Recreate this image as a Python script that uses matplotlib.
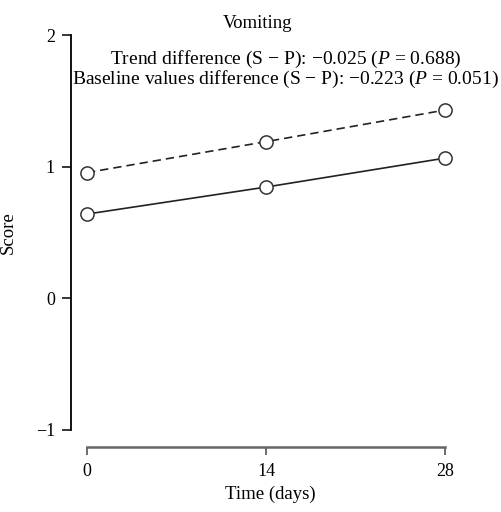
import matplotlib
matplotlib.use("Agg")
import matplotlib.pyplot as plt

days = [0, 14, 28]
score_solid = [0.64, 0.845, 1.065]
score_dashed = [0.955, 1.19, 1.43]
y_ticks = [-1, 0, 1, 2]

title = "Vomiting"
trend_text = r"Trend difference (S $-$ P): $-$0.025 ($\mathit{P}$ = 0.688)"
base_text = r"Baseline values difference (S $-$ P): $-$0.223 ($\mathit{P}$ = 0.051)"

plt.rcParams['font.family'] = 'Liberation Serif'
plt.rcParams['mathtext.fontset'] = 'custom'
plt.rcParams['mathtext.rm'] = 'Liberation Serif'
plt.rcParams['mathtext.it'] = 'Liberation Serif:italic'

fig = plt.figure(figsize=(5.01, 5.12), dpi=100)
ax = fig.add_axes([71 / 501, 82 / 512, 399 / 501, 395 / 512])

mk = dict(marker='o', markersize=9.5, markerfacecolor='white',
          markeredgecolor='#333333', markeredgewidth=1.1, color='#222222', lw=1.2)
ax.plot(days, score_dashed, ls=(0, (5, 3)), **mk)
ax.plot(days, score_solid, ls='-', **mk)

ax.set_xlim(-1.25, 29.95)
ax.set_ylim(-1, 2)
ax.set_xticks(days)
ax.set_yticks(y_ticks)
ax.set_yticklabels(['\u22121', '0', '1', '2'])

for s in ['top', 'right']:
    ax.spines[s].set_visible(False)
ax.spines['left'].set_linewidth(1.3)
ax.spines['left'].set_bounds(-1, 2)
ax.spines['bottom'].set_position(('outward', 12))
ax.spines['bottom'].set_bounds(0, 28)
ax.spines['bottom'].set_color('#666666')
ax.spines['bottom'].set_linewidth(1.8)
ax.tick_params(axis='y', direction='out', length=6.5, width=1.1, labelsize=13, pad=5)
ax.tick_params(axis='x', direction='out', length=6, width=1.1, color='#444444',
               labelsize=13, pad=6)

ax.set_xlabel('Time (days)', fontsize=13.5, labelpad=4)
ax.set_ylabel('Score', fontsize=13.5)
ax.yaxis.set_label_coords(-0.135, 0.5)

fig.text(258 / 501, 1 - 24 / 512, title, ha='center', va='center', fontsize=13.5)
fig.text(286 / 501, 1 - 59 / 512, trend_text, ha='center', va='center', fontsize=14)
fig.text(285 / 501, 1 - 79 / 512, base_text, ha='center', va='center', fontsize=14)

fig.savefig('out.png', dpi=100)
